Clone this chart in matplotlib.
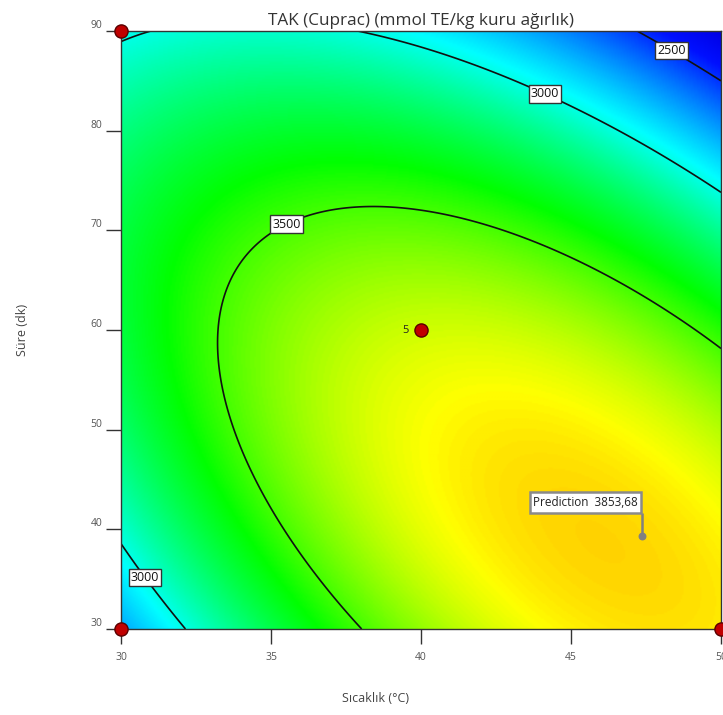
import numpy as np
import matplotlib.pyplot as plt
from matplotlib.colors import LinearSegmentedColormap
from matplotlib.transforms import ScaledTranslation

plt.rcParams['font.family'] = ['Open Sans', 'DejaVu Sans']

# Quadratic response-surface model in coded units
# A = (Sıcaklık - 40) / 10, B = (Süre - 60) / 30
coef_b0 = 3705.0
coef_A = 79.0
coef_B = -340.0
coef_AB = -447.0
coef_AA = -331.0
coef_BB = -428.0

temp_limits = [30, 50]
time_limits = [30, 90]
temp_ticks = [30, 35, 40, 45, 50]
time_ticks = [30, 40, 50, 60, 70, 80, 90]

contour_levels = [2500, 3000, 3500]
# (level, approximate label location in temperature / time)
contour_label_spots = [(3000, 30.73, 35.0), (3500, 35.53, 70.7),
                       (3000, 44.23, 84.2), (2500, 48.47, 88.5)]

design_temp = [30, 30, 50, 40]
design_time = [90, 30, 30, 60]
center_replicates = 5

pred_temp = 47.37
pred_time = 39.37
pred_value = 3853.68

title = "TAK (Cuprac) (mmol TE/kg kuru ağırlık)"
xlabel = "Sıcaklık (°C)"
ylabel = "Süre (dk)"

# colour ramp anchored on response values
ramp_values = [2240, 2420, 2950, 3400, 3780, 4200]
ramp_colors = ["#0000e6", "#0010ff", "#00ffff", "#00ff00", "#ffff00", "#ff0000"]


def model(temp, time):
    a = (temp - 40.0) / 10.0
    b = (time - 60.0) / 30.0
    return (coef_b0 + coef_A * a + coef_B * b + coef_AB * a * b
            + coef_AA * a * a + coef_BB * b * b)


W, H = 723, 715
fig = plt.figure(figsize=(W / 100, H / 100), dpi=100)
ax = fig.add_axes([121 / W, 1 - 629 / H, 600 / W, 598 / H])

tt = np.linspace(temp_limits[0], temp_limits[1], 400)
tm = np.linspace(time_limits[0], time_limits[1], 400)
TT, TM = np.meshgrid(tt, tm)
Z = model(TT, TM)

vmin, vmax = ramp_values[0], ramp_values[-1]
cmap = LinearSegmentedColormap.from_list(
    "de", [((v - vmin) / (vmax - vmin), c) for v, c in zip(ramp_values, ramp_colors)])
ax.imshow(Z, extent=[temp_limits[0], temp_limits[1], time_limits[0], time_limits[1]],
          origin="lower", aspect="auto", cmap=cmap, vmin=vmin, vmax=vmax,
          interpolation="bilinear")

cs = ax.contour(TT, TM, Z, levels=contour_levels, colors="#111111", linewidths=1.2)

# Contour value tags snapped onto their lines
for level, lx, ly in contour_label_spots:
    idx = contour_levels.index(level)
    segs = [s for s in cs.allsegs[idx] if len(s)]
    pts = np.vstack(segs)
    dx = (pts[:, 0] - lx) / 20.0
    dy = (pts[:, 1] - ly) / 60.0
    k = np.argmin(dx * dx + dy * dy)
    ax.text(pts[k, 0], pts[k, 1], f"{level}", ha="center", va="center",
            fontsize=9, color="#111111", zorder=6,
            bbox=dict(boxstyle="square,pad=0.18", fc="white", ec="#333333", lw=1))

# Design points
ax.scatter(design_temp, design_time, s=90, c="#c00000", edgecolors="#5a0000",
           linewidths=1, zorder=8, clip_on=False)
ax.annotate(f"{center_replicates}", (design_temp[3], design_time[3]),
            xytext=(-9, 0), textcoords="offset points", ha="right", va="center",
            fontsize=8, color="#222222", zorder=8)

# Prediction flag
ax.plot([pred_temp, pred_temp], [pred_time, pred_time + 2.25], color="#808080",
        lw=1.8, zorder=7, solid_capstyle="butt")
ax.scatter([pred_temp], [pred_time], s=22, c="#808080", zorder=7)
pred_txt = "Prediction  " + f"{pred_value:.2f}".replace(".", ",")
ax.annotate(pred_txt, (pred_temp, pred_time + 2.25), xytext=(-3, 3),
            textcoords="offset points", ha="right", va="bottom", fontsize=8.5,
            color="#222222", zorder=7,
            bbox=dict(boxstyle="square,pad=0.3", fc="white", ec="#8a8a8a", lw=1.8))

ax.set_xlim(temp_limits)
ax.set_ylim(time_limits)
ax.set_xticks(temp_ticks)
ax.set_yticks(time_ticks)
ax.tick_params(direction="out", length=10.5, width=1, color="#333333",
               labelsize=7.5, labelcolor="#555555")
ax.tick_params(axis="x", pad=6)
ax.tick_params(axis="y", pad=3)
shift = ScaledTranslation(0, 0.07, fig.dpi_scale_trans)
for lab in ax.get_yticklabels():
    lab.set_transform(lab.get_transform() + shift)
for sp in ax.spines.values():
    sp.set_color("#333333")
    sp.set_linewidth(1)

ax.set_title(title, fontsize=12.3, color="#333333", pad=4)
fig.text(375 / W, 1 - 699 / H, xlabel, ha="center", va="center", fontsize=9,
         color="#444444")
fig.text(22 / W, 1 - 330 / H, ylabel, ha="center", va="center", rotation=90,
         fontsize=9, color="#444444")

fig.savefig("out.png", dpi=100)
